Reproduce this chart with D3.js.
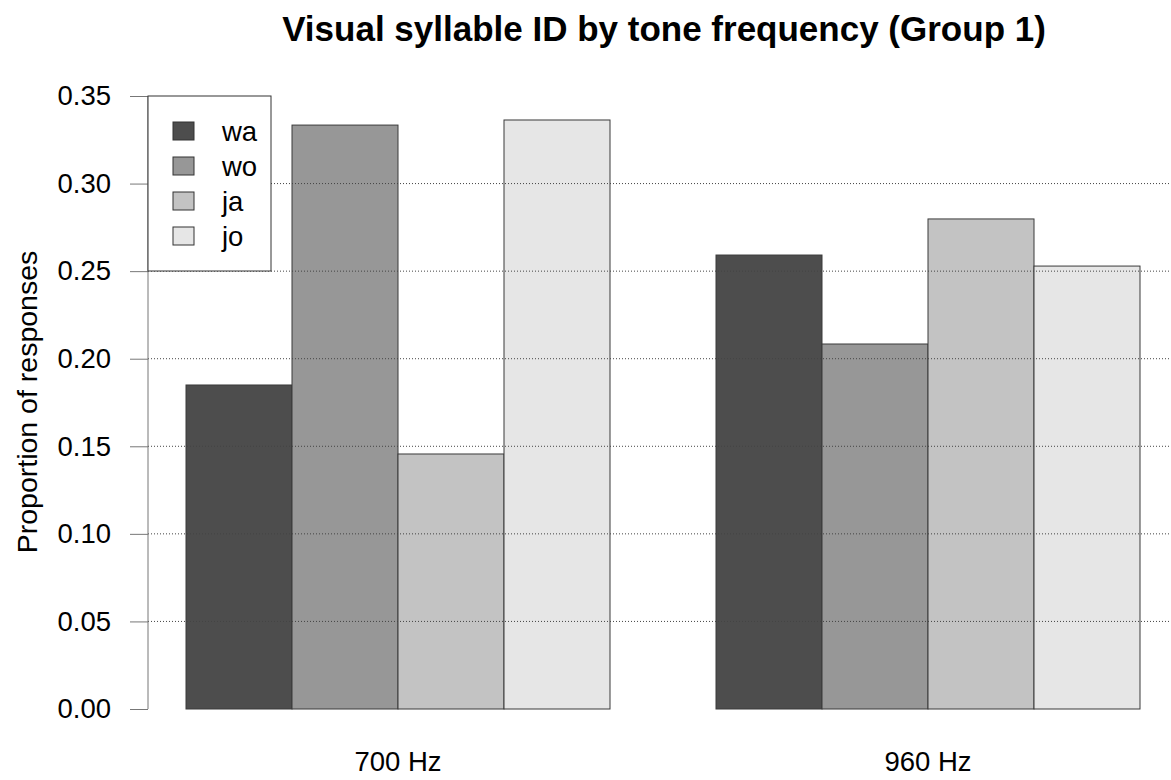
<!DOCTYPE html>
<html><head><meta charset="utf-8">
<script src="https://cdn.jsdelivr.net/npm/d3@7"></script>
<style>body{margin:0;background:#fff}svg{display:block}text{font-family:"Liberation Sans",Arial,sans-serif}</style>
</head><body>
<script>
const groups = ["700 Hz", "960 Hz"];
const series = ["wa", "wo", "ja", "jo"];
const values700 = [0.185, 0.3334, 0.1456, 0.3363];
const values960 = [0.2592, 0.2084, 0.2798, 0.2529];
const colors = ["#4d4d4d", "#979797", "#c3c3c3", "#e6e6e6"];
const yTicks = [0, 0.05, 0.10, 0.15, 0.20, 0.25, 0.30, 0.35];
const gridTicks = [0.05, 0.10, 0.15, 0.20, 0.25, 0.30];
const data = [values700, values960];

const W = 1171, H = 780;
const FS = 27.5;
const svg = d3.select("body").append("svg").attr("width", W).attr("height", H);

const y = d3.scaleLinear().domain([0, 0.35]).range([709, 96]);
const xg = d3.scaleBand().domain(groups).range([186, 1140]).paddingInner(0.2).paddingOuter(0);
const xs = d3.scaleBand().domain(series).range([0, xg.bandwidth()]);

// bars
groups.forEach((g, gi) => {
  svg.append("g").selectAll("rect").data(series).join("rect")
    .attr("x", (s) => xg(g) + xs(s))
    .attr("y", (s, i) => y(data[gi][i]))
    .attr("width", xs.bandwidth())
    .attr("height", (s, i) => y(0) - y(data[gi][i]))
    .attr("fill", (s, i) => colors[i])
    .attr("stroke", "#3a3a3a").attr("stroke-width", 1);
});

// gridlines (on top)
svg.append("g").selectAll("line").data(gridTicks).join("line")
  .attr("x1", 148).attr("x2", W)
  .attr("y1", d => y(d)).attr("y2", d => y(d))
  .attr("stroke", "#444").attr("stroke-width", 1).attr("stroke-dasharray", "1,2");

// y axis
const yAxis = d3.axisLeft(y).tickValues(yTicks).tickFormat(d3.format(".2f")).tickSize(18).tickPadding(19);
const ga = svg.append("g").attr("transform", "translate(148,0)").call(yAxis);
ga.attr("font-size", FS).attr("font-family", '"Liberation Sans",Arial,sans-serif');
ga.select(".domain").attr("stroke", "#777").attr("d", "M0," + y(0) + "V" + y(0.35));
ga.selectAll(".tick line").attr("stroke", "#777");
ga.selectAll(".tick text").attr("fill", "#000");

// x labels
svg.append("g").selectAll("text").data(groups).join("text")
  .attr("x", g => xg(g) + xg.bandwidth() / 2).attr("y", 771)
  .attr("text-anchor", "middle").attr("font-size", FS).text(g => g);

// y label
svg.append("text").attr("transform", "translate(37,402) rotate(-90)")
  .attr("text-anchor", "middle").attr("font-size", 28.5).text("Proportion of responses");

// title
svg.append("text").attr("x", 664).attr("y", 41).attr("text-anchor", "middle")
  .attr("font-size", 35).attr("font-weight", "bold").text("Visual syllable ID by tone frequency (Group 1)");

// legend
const lg = svg.append("g");
lg.append("rect").attr("x", 148).attr("y", 96).attr("width", 123).attr("height", 175)
  .attr("fill", "#fff").attr("stroke", "#333").attr("stroke-width", 1);
const ly = d3.scalePoint().domain(series).range([131, 236]);
lg.selectAll("rect.k").data(series).join("rect").attr("class", "k")
  .attr("x", 173).attr("y", s => ly(s) - 9).attr("width", 21).attr("height", 18)
  .attr("fill", (s, i) => colors[i]).attr("stroke", "#333").attr("stroke-width", 1);
lg.selectAll("text.t").data(series).join("text").attr("class", "t")
  .attr("x", 222).attr("y", s => ly(s) + 10).attr("font-size", FS).text(s => s);
</script>
</body></html>
